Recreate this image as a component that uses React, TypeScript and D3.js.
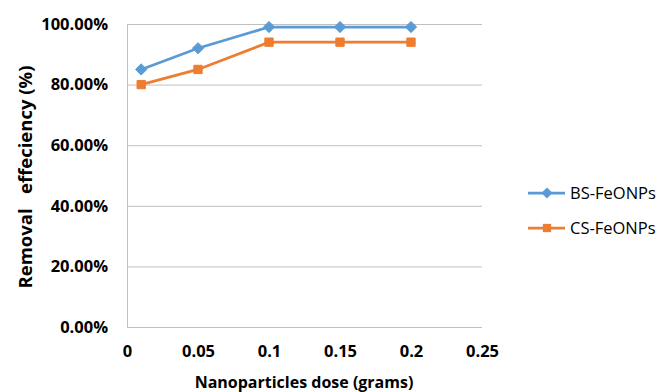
import { useEffect, useRef } from "react";
import * as d3 from "d3";

const doses = [0.01, 0.05, 0.1, 0.15, 0.2];
const bsValues = [0.85, 0.92, 0.99, 0.99, 0.99];
const csValues = [0.8, 0.85, 0.94, 0.94, 0.94];
const xTicks = [0, 0.05, 0.1, 0.15, 0.2, 0.25];
const yTicks = [0, 0.2, 0.4, 0.6, 0.8, 1.0];

const series = [
  { name: "BS-FeONPs", values: bsValues, color: "#5B9BD5", marker: "diamond" },
  { name: "CS-FeONPs", values: csValues, color: "#ED7D31", marker: "square" },
];

const WIDTH = 657;
const HEIGHT = 392;
const FONT = "'Open Sans', Lato, sans-serif";

export default function App() {
  const svgRef = useRef<SVGSVGElement>(null);

  useEffect(() => {
    if (!svgRef.current) return;
    const margin = { top: 24, right: 175, bottom: 65, left: 127 };
    const innerW = WIDTH - margin.left - margin.right;
    const innerH = HEIGHT - margin.top - margin.bottom;

    const svg = d3.select(svgRef.current);
    svg.selectAll("*").remove();

    const x = d3.scaleLinear().domain([0, 0.25]).range([0, innerW]);
    const y = d3.scaleLinear().domain([0, 1]).range([innerH, 0]);

    const g = svg
      .append("g")
      .attr("transform", `translate(${margin.left},${margin.top})`);

    // Grid lines
    g.append("g")
      .call(d3.axisLeft(y).tickValues(yTicks).tickSize(-innerW).tickFormat(() => ""))
      .call((axis) => {
        axis.select(".domain").remove();
        axis.selectAll("line").attr("stroke", "#BFBFBF").attr("stroke-width", 1);
      });

    // Y axis
    g.append("g")
      .call(
        d3
          .axisLeft(y)
          .tickValues(yTicks)
          .tickSize(0)
          .tickPadding(19)
          .tickFormat((d) => d3.format(".2%")(d as number))
      )
      .call((axis) => {
        axis.select(".domain").attr("stroke", "#BFBFBF");
        axis
          .selectAll("text")
          .attr("fill", "#000")
          .attr("font-size", "16.5px")
          .attr("font-weight", "700")
          .attr("font-family", FONT);
      });

    // X axis (labels only)
    g.append("g")
      .attr("transform", `translate(0,${innerH})`)
      .call(
        d3
          .axisBottom(x)
          .tickValues(xTicks)
          .tickSize(0)
          .tickPadding(18)
          .tickFormat((d) => String(d))
      )
      .call((axis) => {
        axis.select(".domain").remove();
        axis
          .selectAll("text")
          .attr("fill", "#000")
          .attr("font-size", "16.5px")
          .attr("font-weight", "700")
          .attr("font-family", FONT);
      });

    const line = d3
      .line<number>()
      .x((_, i) => x(doses[i]))
      .y((d) => y(d));

    const diamond = d3.symbol().type(d3.symbolDiamond2).size(80);
    const square = d3.symbol().type(d3.symbolSquare2).size(88);

    series.forEach((s) => {
      g.append("path")
        .datum(s.values)
        .attr("fill", "none")
        .attr("stroke", s.color)
        .attr("stroke-width", 2.75)
        .attr("d", line);

      g.selectAll(null)
        .data(s.values)
        .enter()
        .append("path")
        .attr("transform", (d, i) => `translate(${x(doses[i])},${y(d)})`)
        .attr("d", s.marker === "diamond" ? diamond() : square())
        .attr("fill", s.color)
        .attr("stroke", s.color)
        .attr("stroke-width", 1);
    });

    // Axis titles
    svg
      .append("text")
      .attr("x", 304)
      .attr("y", 388)
      .attr("text-anchor", "middle")
      .attr("font-size", "16px")
      .attr("font-weight", "700")
      .attr("font-family", FONT)
      .text("Nanoparticles dose (grams)");

    svg
      .append("text")
      .attr("transform", `translate(32,177) rotate(-90)`)
      .attr("text-anchor", "middle")
      .attr("font-size", "18.5px")
      .attr("font-weight", "700")
      .attr("font-family", FONT)
      .style("white-space", "pre")
      .text("Removal   effeciency (%)");

    // Legend
    const legend = svg.append("g").attr("transform", "translate(528,193)");
    series.forEach((s, i) => {
      const row = legend.append("g").attr("transform", `translate(0,${i * 35})`);
      row
        .append("line")
        .attr("x1", 0)
        .attr("x2", 37)
        .attr("stroke", s.color)
        .attr("stroke-width", 2.75);
      row
        .append("path")
        .attr("transform", "translate(19,0)")
        .attr("d", s.marker === "diamond" ? diamond() : square())
        .attr("fill", s.color);
      row
        .append("text")
        .attr("x", 42)
        .attr("y", 6)
        .attr("font-size", "16.5px")
        .attr("font-family", FONT)
        .attr("fill", "#000")
        .text(s.name);
    });
  }, []);

  return (
    <svg
      ref={svgRef}
      width={WIDTH}
      height={HEIGHT}
      style={{ position: "absolute", left: 0, top: 0, background: "#fff" }}
    />
  );
}
